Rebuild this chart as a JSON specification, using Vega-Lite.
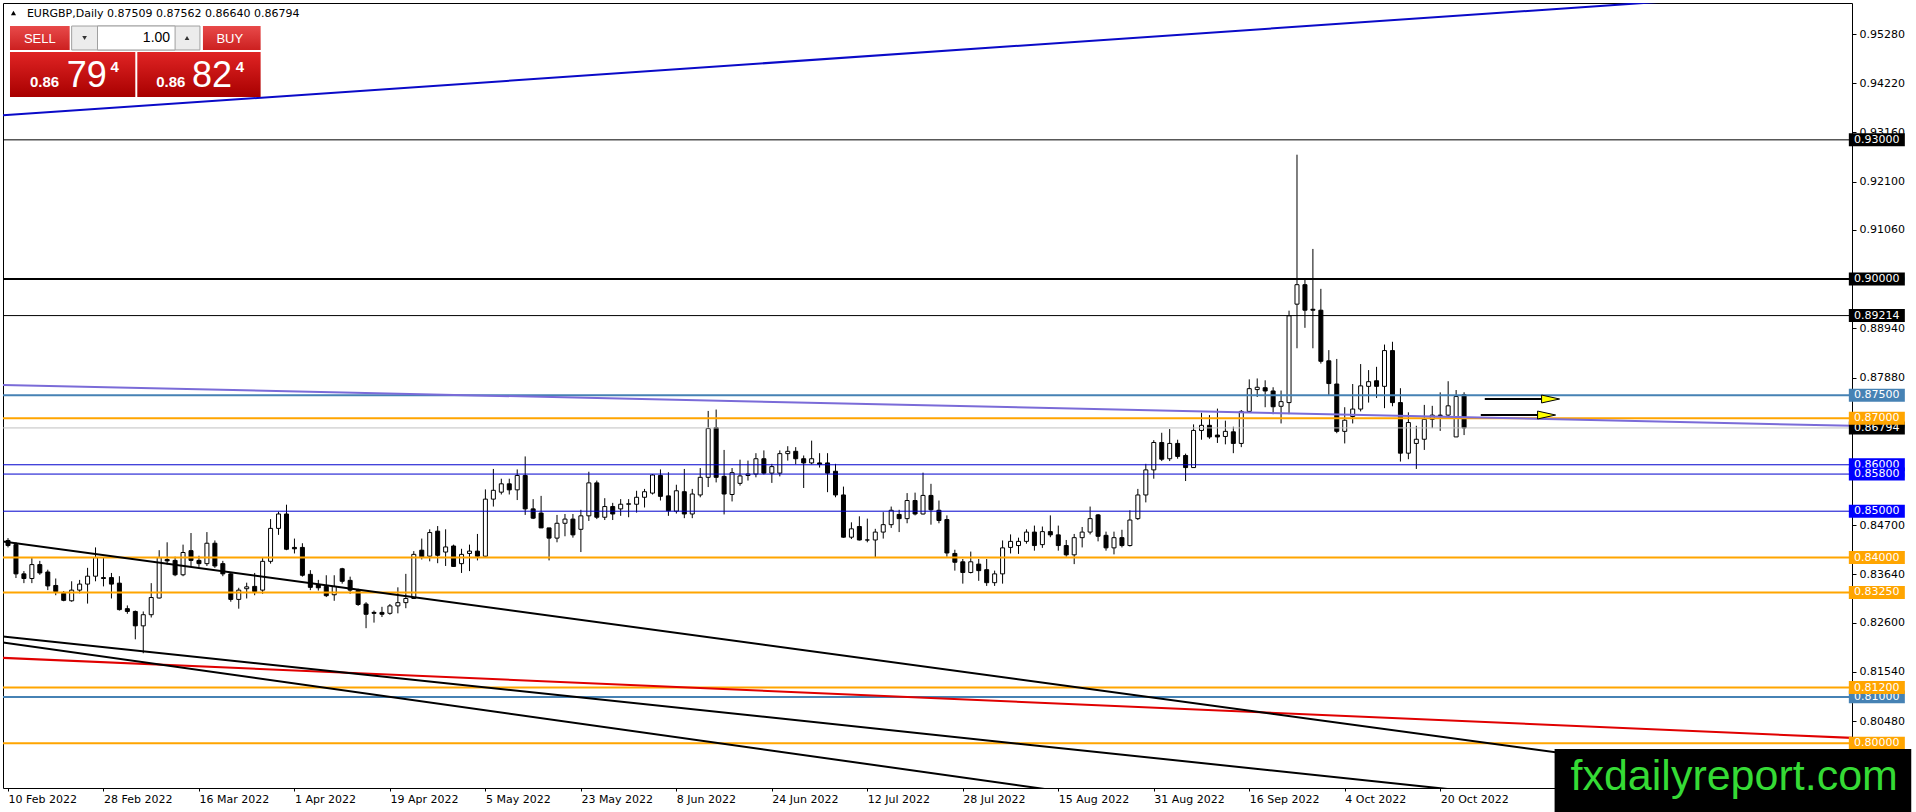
{
  "$schema": "https://vega.github.io/schema/vega-lite/v6.json",
  "width": 1849,
  "height": 785,
  "autosize": {"type": "none"},
  "padding": {"left": 3, "top": 3, "right": 64, "bottom": 24},
  "background": "white",
  "config": {"view": {"stroke": "black", "strokeWidth": 1, "fill": "white"}},
  "resolve": {"scale": {"stroke": "independent", "fill": "independent"}},
  "data": {"values": [{}]},
  "datasets": {
    "candles": [
      {"i":0,"o":0.8437,"h":0.8442,"l":0.8422,"c":0.8426},
      {"i":1,"o":0.8428,"h":0.8433,"l":0.8356,"c":0.8365},
      {"i":2,"o":0.8365,"h":0.8371,"l":0.8345,"c":0.8355},
      {"i":3,"o":0.8355,"h":0.8399,"l":0.8345,"c":0.8385},
      {"i":4,"o":0.8385,"h":0.8393,"l":0.8363,"c":0.8367},
      {"i":5,"o":0.8369,"h":0.8374,"l":0.8330,"c":0.8339},
      {"i":6,"o":0.8340,"h":0.8355,"l":0.8319,"c":0.8327},
      {"i":7,"o":0.8323,"h":0.8328,"l":0.8306,"c":0.8308},
      {"i":8,"o":0.8307,"h":0.8349,"l":0.8305,"c":0.8330},
      {"i":9,"o":0.8330,"h":0.8352,"l":0.8323,"c":0.8343},
      {"i":10,"o":0.8343,"h":0.8378,"l":0.8301,"c":0.8360},
      {"i":11,"o":0.8360,"h":0.8422,"l":0.8349,"c":0.8400},
      {"i":12,"o":0.8357,"h":0.8400,"l":0.8338,"c":0.8355},
      {"i":13,"o":0.8357,"h":0.8367,"l":0.8312,"c":0.8343},
      {"i":14,"o":0.8345,"h":0.8360,"l":0.8286,"c":0.8288},
      {"i":15,"o":0.8290,"h":0.8297,"l":0.8279,"c":0.8284},
      {"i":16,"o":0.8284,"h":0.8286,"l":0.8224,"c":0.8253},
      {"i":17,"o":0.8253,"h":0.8284,"l":0.8194,"c":0.8277},
      {"i":18,"o":0.8277,"h":0.8345,"l":0.8271,"c":0.8314},
      {"i":19,"o":0.8313,"h":0.8416,"l":0.8312,"c":0.8400},
      {"i":20,"o":0.8396,"h":0.8433,"l":0.8385,"c":0.8393},
      {"i":21,"o":0.8394,"h":0.8402,"l":0.8360,"c":0.8363},
      {"i":22,"o":0.8363,"h":0.8428,"l":0.8360,"c":0.8411},
      {"i":23,"o":0.8415,"h":0.8453,"l":0.8382,"c":0.8394},
      {"i":24,"o":0.8394,"h":0.8404,"l":0.8380,"c":0.8387},
      {"i":25,"o":0.8387,"h":0.8455,"l":0.8382,"c":0.8431},
      {"i":26,"o":0.8431,"h":0.8437,"l":0.8378,"c":0.8382},
      {"i":27,"o":0.8387,"h":0.8393,"l":0.8360,"c":0.8365},
      {"i":28,"o":0.8365,"h":0.8369,"l":0.8305,"c":0.8310},
      {"i":29,"o":0.8310,"h":0.8335,"l":0.8290,"c":0.8330},
      {"i":30,"o":0.8333,"h":0.8346,"l":0.8312,"c":0.8337},
      {"i":31,"o":0.8338,"h":0.8367,"l":0.8319,"c":0.8327},
      {"i":32,"o":0.8330,"h":0.8400,"l":0.8322,"c":0.8392},
      {"i":33,"o":0.8392,"h":0.8483,"l":0.8387,"c":0.8463},
      {"i":34,"o":0.8463,"h":0.8499,"l":0.8449,"c":0.8494},
      {"i":35,"o":0.8494,"h":0.8514,"l":0.8416,"c":0.8418},
      {"i":36,"o":0.8422,"h":0.8441,"l":0.8409,"c":0.8419},
      {"i":37,"o":0.8422,"h":0.8431,"l":0.8359,"c":0.8362},
      {"i":38,"o":0.8364,"h":0.8373,"l":0.8330,"c":0.8336},
      {"i":39,"o":0.8341,"h":0.8352,"l":0.8329,"c":0.8335},
      {"i":40,"o":0.8338,"h":0.8362,"l":0.8315,"c":0.8318},
      {"i":41,"o":0.8320,"h":0.8362,"l":0.8307,"c":0.8338},
      {"i":42,"o":0.8376,"h":0.8378,"l":0.8344,"c":0.8349},
      {"i":43,"o":0.8351,"h":0.8359,"l":0.8322,"c":0.8330},
      {"i":44,"o":0.8329,"h":0.8333,"l":0.8296,"c":0.8299},
      {"i":45,"o":0.8300,"h":0.8304,"l":0.8248,"c":0.8278},
      {"i":46,"o":0.8282,"h":0.8286,"l":0.8260,"c":0.8280},
      {"i":47,"o":0.8282,"h":0.8294,"l":0.8272,"c":0.8278},
      {"i":48,"o":0.8280,"h":0.8300,"l":0.8277,"c":0.8296},
      {"i":49,"o":0.8296,"h":0.8336,"l":0.8280,"c":0.8303},
      {"i":50,"o":0.8303,"h":0.8365,"l":0.8291,"c":0.8312},
      {"i":51,"o":0.8312,"h":0.8414,"l":0.8311,"c":0.8407},
      {"i":52,"o":0.8416,"h":0.8441,"l":0.8396,"c":0.8402},
      {"i":53,"o":0.8403,"h":0.8461,"l":0.8392,"c":0.8454},
      {"i":54,"o":0.8457,"h":0.8468,"l":0.8388,"c":0.8405},
      {"i":55,"o":0.8412,"h":0.8461,"l":0.8382,"c":0.8423},
      {"i":56,"o":0.8425,"h":0.8428,"l":0.8380,"c":0.8381},
      {"i":57,"o":0.8387,"h":0.8419,"l":0.8367,"c":0.8407},
      {"i":58,"o":0.8409,"h":0.8428,"l":0.8371,"c":0.8414},
      {"i":59,"o":0.8414,"h":0.8451,"l":0.8394,"c":0.8403},
      {"i":60,"o":0.8403,"h":0.8547,"l":0.8402,"c":0.8526},
      {"i":61,"o":0.8526,"h":0.8591,"l":0.8510,"c":0.8545},
      {"i":62,"o":0.8541,"h":0.8570,"l":0.8536,"c":0.8559},
      {"i":63,"o":0.8559,"h":0.8570,"l":0.8536,"c":0.8546},
      {"i":64,"o":0.8546,"h":0.8590,"l":0.8524,"c":0.8577},
      {"i":65,"o":0.8577,"h":0.8618,"l":0.8492,"c":0.8505},
      {"i":66,"o":0.8505,"h":0.8526,"l":0.8483,"c":0.8485},
      {"i":67,"o":0.8496,"h":0.8533,"l":0.8464,"c":0.8464},
      {"i":68,"o":0.8464,"h":0.8464,"l":0.8394,"c":0.8442},
      {"i":69,"o":0.8442,"h":0.8492,"l":0.8433,"c":0.8474},
      {"i":70,"o":0.8474,"h":0.8494,"l":0.8446,"c":0.8483},
      {"i":71,"o":0.8483,"h":0.8494,"l":0.8443,"c":0.8449},
      {"i":72,"o":0.8461,"h":0.8503,"l":0.8412,"c":0.8490},
      {"i":73,"o":0.8490,"h":0.8585,"l":0.8479,"c":0.8561},
      {"i":74,"o":0.8561,"h":0.8566,"l":0.8483,"c":0.8487},
      {"i":75,"o":0.8487,"h":0.8528,"l":0.8481,"c":0.8510},
      {"i":76,"o":0.8510,"h":0.8518,"l":0.8481,"c":0.8494},
      {"i":77,"o":0.8505,"h":0.8526,"l":0.8490,"c":0.8515},
      {"i":78,"o":0.8515,"h":0.8526,"l":0.8487,"c":0.8516},
      {"i":79,"o":0.8515,"h":0.8544,"l":0.8497,"c":0.8530},
      {"i":80,"o":0.8530,"h":0.8548,"l":0.8508,"c":0.8542},
      {"i":81,"o":0.8539,"h":0.8580,"l":0.8536,"c":0.8578},
      {"i":82,"o":0.8577,"h":0.8590,"l":0.8523,"c":0.8532},
      {"i":83,"o":0.8533,"h":0.8584,"l":0.8490,"c":0.8501},
      {"i":84,"o":0.8500,"h":0.8557,"l":0.8495,"c":0.8544},
      {"i":85,"o":0.8542,"h":0.8591,"l":0.8485,"c":0.8494},
      {"i":86,"o":0.8494,"h":0.8548,"l":0.8485,"c":0.8537},
      {"i":87,"o":0.8535,"h":0.8593,"l":0.8530,"c":0.8573},
      {"i":88,"o":0.8573,"h":0.8716,"l":0.8552,"c":0.8678},
      {"i":89,"o":0.8680,"h":0.8719,"l":0.8562,"c":0.8573},
      {"i":90,"o":0.8575,"h":0.8632,"l":0.8493,"c":0.8537},
      {"i":91,"o":0.8536,"h":0.8593,"l":0.8521,"c":0.8583},
      {"i":92,"o":0.8560,"h":0.8611,"l":0.8555,"c":0.8576},
      {"i":93,"o":0.8577,"h":0.8609,"l":0.8566,"c":0.8580},
      {"i":94,"o":0.8580,"h":0.8625,"l":0.8573,"c":0.8613},
      {"i":95,"o":0.8613,"h":0.8631,"l":0.8579,"c":0.8582},
      {"i":96,"o":0.8582,"h":0.8602,"l":0.8561,"c":0.8596},
      {"i":97,"o":0.8582,"h":0.8631,"l":0.8575,"c":0.8624},
      {"i":98,"o":0.8624,"h":0.8640,"l":0.8609,"c":0.8629},
      {"i":99,"o":0.8629,"h":0.8638,"l":0.8601,"c":0.8613},
      {"i":100,"o":0.8613,"h":0.8620,"l":0.8550,"c":0.8604},
      {"i":101,"o":0.8604,"h":0.8652,"l":0.8601,"c":0.8613},
      {"i":102,"o":0.8604,"h":0.8625,"l":0.8594,"c":0.8601},
      {"i":103,"o":0.8604,"h":0.8625,"l":0.8541,"c":0.8582},
      {"i":104,"o":0.8586,"h":0.8602,"l":0.8530,"c":0.8535},
      {"i":105,"o":0.8535,"h":0.8553,"l":0.8443,"c":0.8444},
      {"i":106,"o":0.8444,"h":0.8476,"l":0.8440,"c":0.8462},
      {"i":107,"o":0.8467,"h":0.8489,"l":0.8437,"c":0.8438},
      {"i":108,"o":0.8438,"h":0.8484,"l":0.8433,"c":0.8438},
      {"i":109,"o":0.8438,"h":0.8462,"l":0.8400,"c":0.8455},
      {"i":110,"o":0.8455,"h":0.8498,"l":0.8441,"c":0.8471},
      {"i":111,"o":0.8471,"h":0.8510,"l":0.8464,"c":0.8502},
      {"i":112,"o":0.8493,"h":0.8503,"l":0.8455,"c":0.8484},
      {"i":113,"o":0.8484,"h":0.8539,"l":0.8474,"c":0.8523},
      {"i":114,"o":0.8523,"h":0.8540,"l":0.8491,"c":0.8494},
      {"i":115,"o":0.8494,"h":0.8583,"l":0.8493,"c":0.8534},
      {"i":116,"o":0.8534,"h":0.8559,"l":0.8471,"c":0.8503},
      {"i":117,"o":0.8502,"h":0.8523,"l":0.8474,"c":0.8480},
      {"i":118,"o":0.8482,"h":0.8491,"l":0.8402,"c":0.8410},
      {"i":119,"o":0.8409,"h":0.8417,"l":0.8372,"c":0.8390},
      {"i":120,"o":0.8391,"h":0.8397,"l":0.8344,"c":0.8368},
      {"i":121,"o":0.8368,"h":0.8413,"l":0.8366,"c":0.8391},
      {"i":122,"o":0.8386,"h":0.8397,"l":0.8350,"c":0.8372},
      {"i":123,"o":0.8374,"h":0.8397,"l":0.8339,"c":0.8346},
      {"i":124,"o":0.8346,"h":0.8372,"l":0.8339,"c":0.8365},
      {"i":125,"o":0.8365,"h":0.8437,"l":0.8344,"c":0.8421},
      {"i":126,"o":0.8422,"h":0.8450,"l":0.8409,"c":0.8435},
      {"i":127,"o":0.8426,"h":0.8443,"l":0.8408,"c":0.8435},
      {"i":128,"o":0.8435,"h":0.8461,"l":0.8430,"c":0.8455},
      {"i":129,"o":0.8455,"h":0.8469,"l":0.8415,"c":0.8426},
      {"i":130,"o":0.8428,"h":0.8467,"l":0.8421,"c":0.8456},
      {"i":131,"o":0.8456,"h":0.8491,"l":0.8444,"c":0.8449},
      {"i":132,"o":0.8449,"h":0.8469,"l":0.8415,"c":0.8426},
      {"i":133,"o":0.8426,"h":0.8438,"l":0.8402,"c":0.8406},
      {"i":134,"o":0.8406,"h":0.8451,"l":0.8386,"c":0.8443},
      {"i":135,"o":0.8443,"h":0.8466,"l":0.8422,"c":0.8455},
      {"i":136,"o":0.8455,"h":0.8510,"l":0.8450,"c":0.8484},
      {"i":137,"o":0.8492,"h":0.8494,"l":0.8435,"c":0.8446},
      {"i":138,"o":0.8448,"h":0.8456,"l":0.8415,"c":0.8421},
      {"i":139,"o":0.8421,"h":0.8456,"l":0.8407,"c":0.8443},
      {"i":140,"o":0.8443,"h":0.8460,"l":0.8422,"c":0.8426},
      {"i":141,"o":0.8426,"h":0.8502,"l":0.8424,"c":0.8481},
      {"i":142,"o":0.8484,"h":0.8548,"l":0.8481,"c":0.8535},
      {"i":143,"o":0.8535,"h":0.8602,"l":0.8519,"c":0.8589},
      {"i":144,"o":0.8589,"h":0.8653,"l":0.8570,"c":0.8648},
      {"i":145,"o":0.8648,"h":0.8669,"l":0.8608,"c":0.8612},
      {"i":146,"o":0.8613,"h":0.8677,"l":0.8608,"c":0.8646},
      {"i":147,"o":0.8646,"h":0.8654,"l":0.8613,"c":0.8618},
      {"i":148,"o":0.8620,"h":0.8624,"l":0.8565,"c":0.8594},
      {"i":149,"o":0.8594,"h":0.8687,"l":0.8594,"c":0.8674},
      {"i":150,"o":0.8674,"h":0.8712,"l":0.8654,"c":0.8685},
      {"i":151,"o":0.8685,"h":0.8707,"l":0.8656,"c":0.8660},
      {"i":152,"o":0.8664,"h":0.8721,"l":0.8647,"c":0.8660},
      {"i":153,"o":0.8661,"h":0.8695,"l":0.8644,"c":0.8672},
      {"i":154,"o":0.8671,"h":0.8682,"l":0.8625,"c":0.8646},
      {"i":155,"o":0.8646,"h":0.8718,"l":0.8638,"c":0.8715},
      {"i":156,"o":0.8715,"h":0.8784,"l":0.8712,"c":0.8764},
      {"i":157,"o":0.8762,"h":0.8786,"l":0.8746,"c":0.8767},
      {"i":158,"o":0.8766,"h":0.8782,"l":0.8724,"c":0.8759},
      {"i":159,"o":0.8759,"h":0.8767,"l":0.8709,"c":0.8725},
      {"i":160,"o":0.8726,"h":0.8760,"l":0.8689,"c":0.8736},
      {"i":161,"o":0.8734,"h":0.8932,"l":0.8709,"c":0.8921},
      {"i":162,"o":0.8946,"h":0.9268,"l":0.8851,"c":0.8988},
      {"i":163,"o":0.8988,"h":0.9000,"l":0.8895,"c":0.8933},
      {"i":164,"o":0.8935,"h":0.9065,"l":0.8851,"c":0.8933},
      {"i":165,"o":0.8933,"h":0.8979,"l":0.8818,"c":0.8823},
      {"i":166,"o":0.8824,"h":0.8847,"l":0.8749,"c":0.8775},
      {"i":167,"o":0.8774,"h":0.8828,"l":0.8668,"c":0.8672},
      {"i":168,"o":0.8672,"h":0.8724,"l":0.8646,"c":0.8696},
      {"i":169,"o":0.8704,"h":0.8774,"l":0.8689,"c":0.8720},
      {"i":170,"o":0.8720,"h":0.8817,"l":0.8715,"c":0.8770},
      {"i":171,"o":0.8769,"h":0.8804,"l":0.8734,"c":0.8779},
      {"i":172,"o":0.8781,"h":0.8811,"l":0.8744,"c":0.8769},
      {"i":173,"o":0.8769,"h":0.8859,"l":0.8722,"c":0.8846},
      {"i":174,"o":0.8846,"h":0.8865,"l":0.8726,"c":0.8734},
      {"i":175,"o":0.8734,"h":0.8765,"l":0.8607,"c":0.8625},
      {"i":176,"o":0.8625,"h":0.8713,"l":0.8612,"c":0.8691},
      {"i":177,"o":0.8646,"h":0.8684,"l":0.8591,"c":0.8655},
      {"i":178,"o":0.8655,"h":0.8729,"l":0.8632,"c":0.8698},
      {"i":179,"o":0.8698,"h":0.8727,"l":0.8679,"c":0.8707},
      {"i":180,"o":0.8707,"h":0.8756,"l":0.8673,"c":0.8706},
      {"i":181,"o":0.8707,"h":0.8780,"l":0.8702,"c":0.8727},
      {"i":182,"o":0.8660,"h":0.8761,"l":0.8660,"c":0.8747},
      {"i":183,"o":0.87509,"h":0.87562,"l":0.86640,"c":0.86794}
    ],
    "levels": [
      {"p":0.86794,"kind":"bid"},
      {"p":0.86,"kind":"blue"},
      {"p":0.81,"kind":"steel"},
      {"p":0.858,"kind":"blue"},
      {"p":0.85,"kind":"blue"},
      {"p":0.812,"kind":"orange"},
      {"p":0.87,"kind":"orange"},
      {"p":0.875,"kind":"steel"},
      {"p":0.84,"kind":"orange"},
      {"p":0.8325,"kind":"orange"},
      {"p":0.80,"kind":"orange"},
      {"p":0.93,"kind":"black-thin"},
      {"p":0.90,"kind":"black-thick"},
      {"p":0.89214,"kind":"black-thin"}
    ],
    "trend": [
      {"id":"upper","i":-1,"p":0.93523},
      {"id":"upper","i":215,"p":0.96059},
      {"id":"purple","i":-1,"p":0.87721},
      {"id":"purple","i":232,"p":0.86839},
      {"id":"red","i":-1,"p":0.81843},
      {"id":"red","i":232,"p":0.80115},
      {"id":"black-1","i":-1,"p":0.84358},
      {"id":"black-1","i":232,"p":0.78936},
      {"id":"black-2","i":-1,"p":0.82308},
      {"id":"black-2","i":200,"p":0.78670},
      {"id":"black-3","i":-1,"p":0.82182},
      {"id":"black-3","i":150,"p":0.78540}
    ],
    "arrows": [
      {"from":185.6,"to":195.0,"p":0.87417},
      {"from":185.1,"to":194.5,"p":0.87072}
    ]
  },
  "layer": [
    {
      "data": {"name": "candles"},
      "mark": {"type": "rule", "color": "black", "strokeWidth": 1, "clip": true},
      "encoding": {
        "x": {
          "field": "i", "type": "quantitative",
          "scale": {"domain": [0, 231.125], "nice": false, "zero": false},
          "axis": {
            "values": [0, 12, 24, 36, 48, 60, 72, 84, 96, 108, 120, 132, 144, 156, 168, 180],
            "labelExpr": "['10 Feb 2022','28 Feb 2022','16 Mar 2022','1 Apr 2022','19 Apr 2022','5 May 2022','23 May 2022','8 Jun 2022','24 Jun 2022','12 Jul 2022','28 Jul 2022','15 Aug 2022','31 Aug 2022','16 Sep 2022','4 Oct 2022','20 Oct 2022'][round(datum.value / 12)]",
            "labelAlign": "left", "labelBaseline": "top", "labelPadding": 2,
            "labelFont": "DejaVu Sans", "labelFontSize": 11, "labelColor": "black",
            "tickColor": "black", "tickSize": 3, "domain": false, "grid": false,
            "title": null, "labelFlush": false, "labelOverlap": false
          }
        },
        "y": {
          "field": "l", "type": "quantitative",
          "scale": {"domain": [0.79037, 0.95948], "nice": false, "zero": false},
          "axis": {
            "orient": "right",
            "values": [0.9528, 0.9422, 0.9316, 0.921, 0.9106, 0.9, 0.8894, 0.8788, 0.8682, 0.8576, 0.847, 0.8364, 0.826, 0.8154, 0.8048, 0.7942],
            "format": ".5f", "labelBaseline": "middle", "labelPadding": 3,
            "labelFont": "DejaVu Sans", "labelFontSize": 11, "labelColor": "black",
            "tickColor": "black", "tickSize": 4, "domain": false, "grid": false,
            "title": null, "labelFlush": false, "labelOverlap": false
          }
        },
        "y2": {"field": "h"}
      }
    },
    {
      "data": {"name": "candles"},
      "mark": {"type": "bar", "size": 4, "stroke": "black", "strokeWidth": 1, "clip": true},
      "encoding": {
        "x": {"field": "i", "type": "quantitative"},
        "y": {"field": "o", "type": "quantitative"},
        "y2": {"field": "c"},
        "fill": {"condition": {"test": "datum.c < datum.o", "value": "black"}, "value": "white"}
      }
    },
    {
      "data": {"name": "levels"},
      "transform": [{"filter": "datum.kind == 'bid' || datum.kind == 'black-thin' || datum.kind == 'blue'"}],
      "mark": {"type": "rule", "strokeWidth": 1},
      "encoding": {
        "y": {"field": "p", "type": "quantitative"},
        "stroke": {
          "field": "kind", "type": "nominal", "legend": null,
          "scale": {"domain": ["bid", "black-thin", "blue"], "range": ["#c0c0c0", "#000000", "#0000cd"]}
        }
      }
    },
    {
      "data": {"name": "levels"},
      "transform": [{"filter": "datum.kind == 'black-thick' || datum.kind == 'steel' || datum.kind == 'orange'"}],
      "mark": {"type": "rule", "strokeWidth": 2},
      "encoding": {
        "y": {"field": "p", "type": "quantitative"},
        "stroke": {
          "field": "kind", "type": "nominal", "legend": null,
          "scale": {"domain": ["black-thick", "steel", "orange"], "range": ["#000000", "#4682b4", "#ffa500"]}
        }
      }
    },
    {
      "data": {"name": "trend"},
      "mark": {"type": "line", "strokeWidth": 2, "clip": true},
      "encoding": {
        "x": {"field": "i", "type": "quantitative"},
        "y": {"field": "p", "type": "quantitative"},
        "stroke": {
          "field": "id", "type": "nominal", "legend": null,
          "scale": {
            "domain": ["upper", "purple", "red", "black-1", "black-2", "black-3"],
            "range": ["#0a0ac8", "#7a6bd8", "#e00000", "#000000", "#000000", "#000000"]
          }
        }
      }
    },
    {
      "data": {"name": "arrows"},
      "layer": [
        {
          "mark": {"type": "rule", "color": "black", "strokeWidth": 2, "x2Offset": -14},
          "encoding": {
            "x": {"field": "from", "type": "quantitative"},
            "x2": {"field": "to"},
            "y": {"field": "p", "type": "quantitative"}
          }
        },
        {
          "mark": {
            "type": "point", "shape": "M-2,-0.44L0,0L-2,0.44Z", "size": 324,
            "filled": true, "fill": "#ffff00", "stroke": "black", "strokeWidth": 1, "opacity": 1
          },
          "encoding": {
            "x": {"field": "to", "type": "quantitative"},
            "y": {"field": "p", "type": "quantitative"}
          }
        }
      ]
    },
    {
      "data": {"name": "levels"},
      "transform": [{"filter": "datum.p == 0.86794 || datum.p == 0.86 || datum.p == 0.81"}],
      "layer": [
        {
          "mark": {"type": "point", "shape": "M-1,-0.232L1,-0.232L1,0.232L-1,0.232Z", "size": 3136, "filled": true, "opacity": 1, "strokeWidth": 0},
          "encoding": {
            "x": {"datum": 234.875, "type": "quantitative"},
            "y": {"field": "p", "type": "quantitative"},
            "fill": {
              "field": "kind", "type": "nominal", "legend": null,
              "scale": {"domain": ["bid", "steel", "blue"], "range": ["#000000", "#4682b4", "#0000ff"]}
            }
          }
        },
        {
          "mark": {"type": "text", "font": "DejaVu Sans", "fontSize": 11, "fill": "white", "align": "left", "baseline": "middle"},
          "encoding": {
            "x": {"datum": 232.0, "type": "quantitative"},
            "y": {"field": "p", "type": "quantitative"},
            "text": {"field": "p", "type": "quantitative", "format": ".5f"}
          }
        }
      ]
    },
    {
      "data": {"name": "levels"},
      "transform": [{"filter": "!(datum.p == 0.86794 || datum.p == 0.86 || datum.p == 0.81)"}],
      "layer": [
        {
          "mark": {"type": "point", "shape": "M-1,-0.232L1,-0.232L1,0.232L-1,0.232Z", "size": 3136, "filled": true, "opacity": 1, "strokeWidth": 0},
          "encoding": {
            "x": {"datum": 234.875, "type": "quantitative"},
            "y": {"field": "p", "type": "quantitative"},
            "fill": {
              "field": "kind", "type": "nominal", "legend": null,
              "scale": {
                "domain": ["black-thin", "black-thick", "steel", "orange", "blue"],
                "range": ["#000000", "#000000", "#4682b4", "#ffa500", "#0000ff"]
              }
            }
          }
        },
        {
          "mark": {"type": "text", "font": "DejaVu Sans", "fontSize": 11, "fill": "white", "align": "left", "baseline": "middle"},
          "encoding": {
            "x": {"datum": 232.0, "type": "quantitative"},
            "y": {"field": "p", "type": "quantitative"},
            "text": {"field": "p", "type": "quantitative", "format": ".5f"}
          }
        }
      ]
    },
    {
      "mark": {"type": "rect", "fill": {"gradient": "linear", "x1": 0, "y1": 0, "x2": 0, "y2": 1, "stops": [{"offset": 0, "color": "#e84a4a"}, {"offset": 1, "color": "#cc2020"}]}},
      "encoding": {
        "x": {"datum": 0.25, "type": "quantitative"}, "x2": {"datum": 7.75},
        "y": {"datum": 0.95452, "type": "quantitative"}, "y2": {"datum": 0.94936}
      }
    },
    {
      "mark": {"type": "rect", "fill": "#ececec", "stroke": "#a0a0a0", "strokeWidth": 1},
      "encoding": {
        "x": {"datum": 8.0, "type": "quantitative"}, "x2": {"datum": 24.125},
        "y": {"datum": 0.95452, "type": "quantitative"}, "y2": {"datum": 0.94936}
      }
    },
    {
      "mark": {"type": "rect", "fill": "white", "stroke": "#a0a0a0", "strokeWidth": 1},
      "encoding": {
        "x": {"datum": 11.25, "type": "quantitative"}, "x2": {"datum": 21.0},
        "y": {"datum": 0.95452, "type": "quantitative"}, "y2": {"datum": 0.94936}
      }
    },
    {
      "mark": {"type": "rect", "fill": {"gradient": "linear", "x1": 0, "y1": 0, "x2": 0, "y2": 1, "stops": [{"offset": 0, "color": "#e84a4a"}, {"offset": 1, "color": "#cc2020"}]}},
      "encoding": {
        "x": {"datum": 24.5, "type": "quantitative"}, "x2": {"datum": 31.75},
        "y": {"datum": 0.95452, "type": "quantitative"}, "y2": {"datum": 0.94936}
      }
    },
    {
      "mark": {"type": "rect", "fill": {"gradient": "linear", "x1": 0, "y1": 0, "x2": 0, "y2": 1, "stops": [{"offset": 0, "color": "#e02424"}, {"offset": 1, "color": "#a80000"}]}},
      "encoding": {
        "x": {"datum": 0.25, "type": "quantitative"}, "x2": {"datum": 16.0},
        "y": {"datum": 0.94892, "type": "quantitative"}, "y2": {"datum": 0.93923}
      }
    },
    {
      "mark": {"type": "rect", "fill": {"gradient": "linear", "x1": 0, "y1": 0, "x2": 0, "y2": 1, "stops": [{"offset": 0, "color": "#e02424"}, {"offset": 1, "color": "#a80000"}]}},
      "encoding": {
        "x": {"datum": 16.25, "type": "quantitative"}, "x2": {"datum": 31.75},
        "y": {"datum": 0.94892, "type": "quantitative"}, "y2": {"datum": 0.93923}
      }
    },
    {
      "mark": {"type": "text", "text": "SELL", "font": "Liberation Sans", "fontSize": 13, "fill": "white", "align": "center", "baseline": "middle"},
      "encoding": {"x": {"datum": 4.0, "type": "quantitative"}, "y": {"datum": 0.95172, "type": "quantitative"}}
    },
    {
      "mark": {"type": "text", "text": "BUY", "font": "Liberation Sans", "fontSize": 13, "fill": "white", "align": "center", "baseline": "middle"},
      "encoding": {"x": {"datum": 27.875, "type": "quantitative"}, "y": {"datum": 0.95172, "type": "quantitative"}}
    },
    {
      "mark": {"type": "text", "text": "1.00", "font": "Liberation Sans", "fontSize": 14, "fill": "black", "align": "right", "baseline": "middle"},
      "encoding": {"x": {"datum": 20.375, "type": "quantitative"}, "y": {"datum": 0.95194, "type": "quantitative"}}
    },
    {
      "mark": {"type": "point", "shape": "triangle-down", "size": 22, "filled": true, "fill": "#333333", "opacity": 1},
      "encoding": {"x": {"datum": 9.625, "type": "quantitative"}, "y": {"datum": 0.95194, "type": "quantitative"}}
    },
    {
      "mark": {"type": "point", "shape": "triangle-up", "size": 22, "filled": true, "fill": "#333333", "opacity": 1},
      "encoding": {"x": {"datum": 22.5, "type": "quantitative"}, "y": {"datum": 0.95194, "type": "quantitative"}}
    },
    {
      "mark": {"type": "text", "text": "0.86", "font": "Liberation Sans", "fontSize": 15, "fontWeight": "bold", "fill": "white", "align": "left", "baseline": "alphabetic"},
      "encoding": {"x": {"datum": 2.75, "type": "quantitative"}, "y": {"datum": 0.94138, "type": "quantitative"}}
    },
    {
      "mark": {"type": "text", "text": "79", "font": "Liberation Sans", "fontSize": 36, "fill": "white", "align": "left", "baseline": "alphabetic"},
      "encoding": {"x": {"datum": 7.375, "type": "quantitative"}, "y": {"datum": 0.94138, "type": "quantitative"}}
    },
    {
      "mark": {"type": "text", "text": "4", "font": "Liberation Sans", "fontSize": 15, "fontWeight": "bold", "fill": "white", "align": "left", "baseline": "alphabetic"},
      "encoding": {"x": {"datum": 12.875, "type": "quantitative"}, "y": {"datum": 0.94462, "type": "quantitative"}}
    },
    {
      "mark": {"type": "text", "text": "0.86", "font": "Liberation Sans", "fontSize": 15, "fontWeight": "bold", "fill": "white", "align": "left", "baseline": "alphabetic"},
      "encoding": {"x": {"datum": 18.625, "type": "quantitative"}, "y": {"datum": 0.94138, "type": "quantitative"}}
    },
    {
      "mark": {"type": "text", "text": "82", "font": "Liberation Sans", "fontSize": 36, "fill": "white", "align": "left", "baseline": "alphabetic"},
      "encoding": {"x": {"datum": 23.125, "type": "quantitative"}, "y": {"datum": 0.94138, "type": "quantitative"}}
    },
    {
      "mark": {"type": "text", "text": "4", "font": "Liberation Sans", "fontSize": 15, "fontWeight": "bold", "fill": "white", "align": "left", "baseline": "alphabetic"},
      "encoding": {"x": {"datum": 28.625, "type": "quantitative"}, "y": {"datum": 0.94462, "type": "quantitative"}}
    },
    {
      "mark": {"type": "point", "shape": "triangle-up", "size": 26, "filled": true, "fill": "black", "opacity": 1},
      "encoding": {"x": {"datum": 0.69, "type": "quantitative"}, "y": {"datum": 0.95733, "type": "quantitative"}}
    },
    {
      "mark": {"type": "text", "text": "EURGBP,Daily  0.87509 0.87562 0.86640 0.86794", "font": "DejaVu Sans", "fontSize": 11, "fill": "black", "align": "left", "baseline": "alphabetic"},
      "encoding": {"x": {"datum": 2.375, "type": "quantitative"}, "y": {"datum": 0.95636, "type": "quantitative"}}
    },
    {
      "mark": {"type": "rect", "fill": "black"},
      "encoding": {
        "x": {"datum": 194.375, "type": "quantitative"}, "x2": {"datum": 239.2},
        "y": {"datum": 0.79877, "type": "quantitative"}, "y2": {"datum": 0.7851}
      }
    },
    {
      "mark": {"type": "text", "text": "fxdailyreport.com", "font": "Liberation Sans", "fontSize": 43, "fill": "#35db35", "align": "left", "baseline": "alphabetic"},
      "encoding": {"x": {"datum": 196.375, "type": "quantitative"}, "y": {"datum": 0.78994, "type": "quantitative"}}
    }
  ]
}
